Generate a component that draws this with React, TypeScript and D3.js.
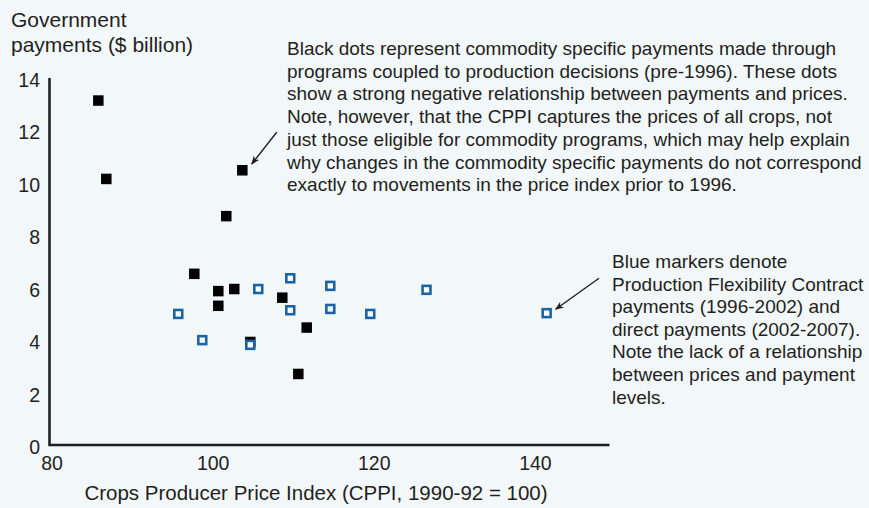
import React from "react";
import * as d3 from "d3";

const blackX = [86.06, 87.05, 103.93, 101.94, 97.97, 100.95, 102.93, 100.95, 108.89, 111.92, 110.88, 104.92];
const blackY = [13.14, 10.15, 10.48, 8.73, 6.53, 5.87, 5.95, 5.31, 5.62, 4.48, 2.71, 3.93];
const blueX = [95.98, 98.96, 104.92, 105.91, 109.88, 109.88, 114.85, 114.85, 119.81, 126.79, 141.7];
const blueY = [5.0, 4.0, 3.82, 5.95, 6.36, 5.14, 6.07, 5.19, 5.0, 5.92, 5.03];
const xTicks = [80, 100, 120, 140];
const yTicks = [0, 2, 4, 6, 8, 10, 12, 14];
const yTitle = ["Government", "payments ($ billion)"];
const xTitle = "Crops Producer Price Index (CPPI, 1990-92 = 100)";
const note1 = [
  "Black dots represent commodity specific payments made through",
  "programs coupled to production decisions (pre-1996). These dots",
  "show a strong negative relationship between payments and prices.",
  "Note, however, that the CPPI captures the prices of all crops, not",
  "just those eligible for commodity programs, which may help explain",
  "why changes in the commodity specific payments do not correspond",
  "exactly to movements in the price index prior to 1996.",
];
const note2 = [
  "Blue markers denote",
  "Production Flexibility Contract",
  "payments (1996-2002) and",
  "direct payments (2002-2007).",
  "Note the lack of a relationship",
  "between prices and payment",
  "levels.",
];

const W = 869;
const H = 508;
const FONT = "'Liberation Sans', Arial, Helvetica, sans-serif";
const INK = "#231f20";
const BLUE = "#1b63a5";

export default function App() {
  const x = d3.scaleLinear().domain([80, 149.5]).range([49.5, 609.5]);
  const y = d3.scaleLinear().domain([0, 14]).range([445, 78]);
  const s = 10.5;
  return (
    <svg width={W} height={H} style={{ position: "absolute", left: 0, top: 0, background: "#f2f7fa" }} fontFamily={FONT}>
      <defs>
        <marker id="ah" viewBox="0 0 10 10" refX="9" refY="5" markerWidth="9" markerHeight="9" orient="auto-start-reverse" markerUnits="userSpaceOnUse">
          <path d="M0,1 L10,5 L0,9 L3,5 Z" fill={INK} />
        </marker>
      </defs>
      <rect x={0} y={0} width={W} height={H} fill="#f2f7fa" />
      {yTitle.map((t, i) => (
        <text key={t} x={11} y={26.7 + i * 25.5} fontSize={21} fill={INK}>{t}</text>
      ))}
      {yTicks.map((v) => (
        <text key={v} x={40} y={y(v) + 9} fontSize={19.5} textAnchor="end" fill={INK}>{v}</text>
      ))}
      {xTicks.map((v) => (
        <text key={v} x={x(v) + 2.5} y={470} fontSize={19.5} textAnchor="middle" fill={INK}>{v}</text>
      ))}
      <text x={316} y={500} fontSize={20.5} textAnchor="middle" fill={INK}>{xTitle}</text>
      <path d={`M${x(80)},${y(14)} V${y(0)} H${x(149.5)}`} fill="none" stroke={INK} strokeWidth={2.6} />
      {blackX.map((v, i) => (
        <rect key={"b" + i} x={x(v) - s / 2} y={y(blackY[i]) - s / 2} width={s} height={s} fill="#000" />
      ))}
      {blueX.map((v, i) => (
        <rect key={"u" + i} x={x(v) - (s - 2.6) / 2} y={y(blueY[i]) - (s - 2.6) / 2} width={s - 2.6} height={s - 2.6} fill="#fff" stroke={BLUE} strokeWidth={2.6} />
      ))}
      {note1.map((t, i) => (
        <text key={i} x={287} y={55 + i * 22.7} fontSize={19} fill={INK}>{t}</text>
      ))}
      {note2.map((t, i) => (
        <text key={i} x={612} y={268 + i * 22.6} fontSize={19} fill={INK}>{t}</text>
      ))}
      <line x1={276.7} y1={132.3} x2={251.7} y2={164} stroke={INK} strokeWidth={1.4} markerEnd="url(#ah)" />
      <line x1={599} y1={278.3} x2={555.7} y2={309.3} stroke={INK} strokeWidth={1.4} markerEnd="url(#ah)" />
    </svg>
  );
}
